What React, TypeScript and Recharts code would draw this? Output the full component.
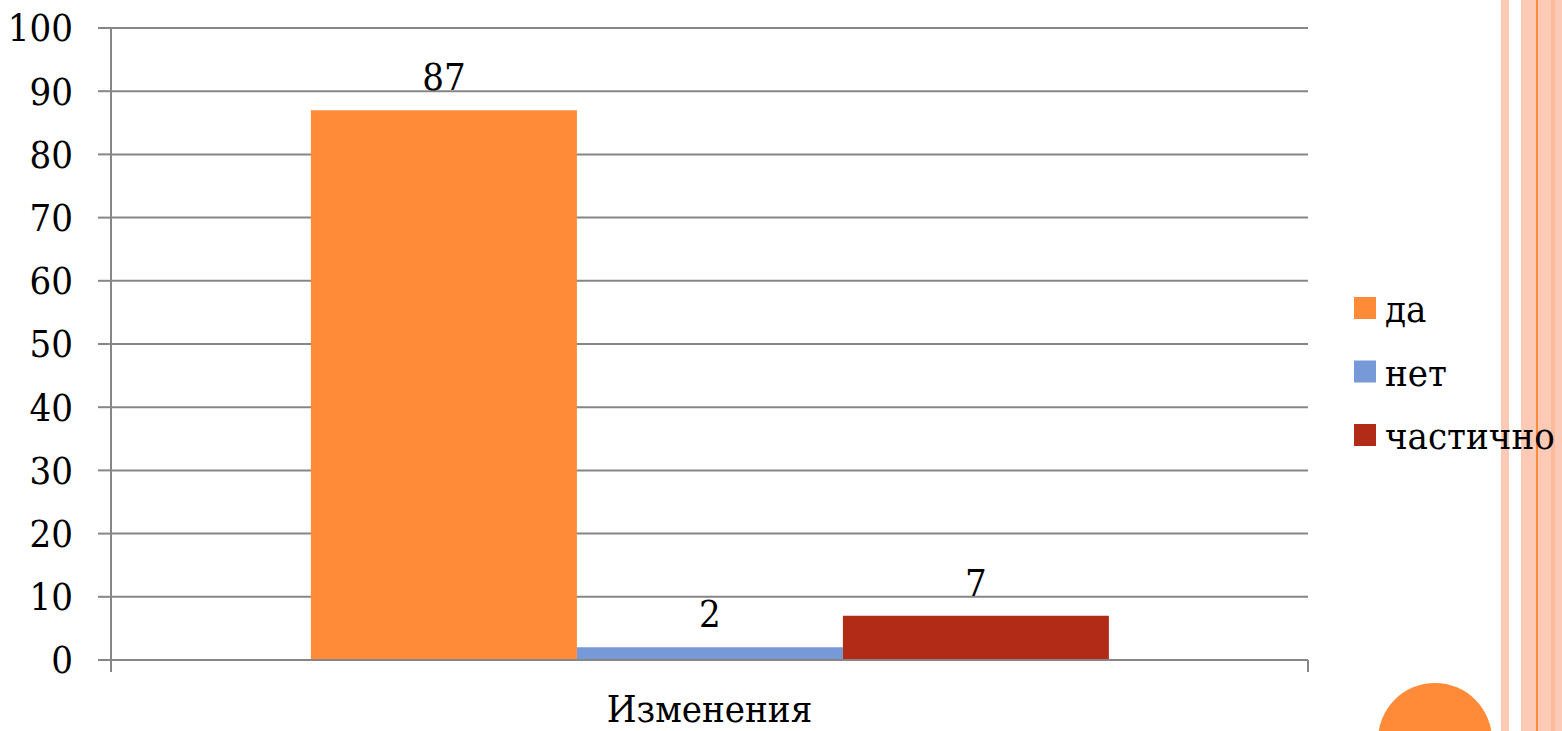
import React from 'react';
import { BarChart, Bar, XAxis, YAxis, CartesianGrid, Legend, LabelList } from 'recharts';

const categories = ['Изменения'];
const seriesNames = ['да', 'нет', 'частично'];
const seriesValues = [87, 2, 7];
const seriesColors = ['#FF8A38', '#7799D8', '#B22B17'];
const yTicks = [0, 10, 20, 30, 40, 50, 60, 70, 80, 90, 100];

const data = categories.map((c) => {
  const row: Record<string, string | number> = { name: c };
  seriesNames.forEach((s, i) => {
    row[s] = seriesValues[i];
  });
  return row;
});

const W = 1562;
const H = 731;
const PLOT_LEFT = 111;
const PLOT_RIGHT = 1308;
const PLOT_TOP = 28;
const PLOT_BOTTOM = 660;
const LEGEND_W = 200;
const LEGEND_PAD = 16;
const FONT = "'DejaVu Serif Condensed', 'DejaVu Serif', serif";
const FS = 38;
const GRID = '#868686';

const XTick = (props: any) => {
  const { x, y, payload } = props;
  const half = (PLOT_RIGHT - PLOT_LEFT) / 2;
  return (
    <g>
      <line x1={x - half} x2={x - half} y1={y} y2={y + 12} stroke={GRID} strokeWidth={2} />
      <line x1={x + half} x2={x + half} y1={y} y2={y + 12} stroke={GRID} strokeWidth={2} />
      <text x={x} y={y + 62} textAnchor="middle" fontFamily={FONT} fontSize={FS} fill="#000">
        {payload.value}
      </text>
    </g>
  );
};

const LegendContent = () => (
  <svg width={LEGEND_W} height={200} style={{ display: 'block', overflow: 'visible' }}>
    {seriesNames.map((s, i) => (
      <g key={s}>
        <rect x={0} y={LEGEND_PAD + i * 63.5} width={22} height={22} fill={seriesColors[i]} />
        <text x={31} y={LEGEND_PAD + i * 63.5 + 25} fontFamily={FONT} fontSize={FS} fill="#000">
          {s}
        </text>
      </g>
    ))}
  </svg>
);

export default function App() {
  return (
    <div style={{ position: 'absolute', left: 0, top: 0, width: W, height: H, background: '#fff', overflow: 'hidden' }}>
      {/* decorative stripes */}
      <div style={{ position: 'absolute', left: 1501, top: 0, width: 8, height: H, background: '#FCCAB5' }} />
      <div style={{ position: 'absolute', left: 1521, top: 0, width: 41, height: H, background: '#FCCAB5' }} />
      <div style={{ position: 'absolute', left: 1551, top: 0, width: 4, height: H, background: '#FBBB9E' }} />
      <div style={{ position: 'absolute', left: 1536, top: 0, width: 2, height: H, background: '#FF8A3A' }} />
      <div style={{ position: 'absolute', left: 1435 - 57, top: 740 - 57, width: 114, height: 114, borderRadius: '50%', background: '#FF8A38' }} />
      <div style={{ position: 'absolute', left: 0, top: 0 }}>
        <BarChart
          width={W}
          height={H}
          data={data}
          margin={{ top: PLOT_TOP, right: W - PLOT_RIGHT - LEGEND_W, left: 0, bottom: 0 }}
          barCategoryGap="16.7%"
          barGap={0}
        >
          <CartesianGrid horizontal vertical={false} stroke={GRID} strokeWidth={2} />
          <XAxis
            dataKey="name"
            height={H - PLOT_BOTTOM}
            axisLine={{ stroke: GRID, strokeWidth: 2 }}
            tickLine={false}
            tickSize={0}
            tickMargin={0}
            tick={<XTick />}
            interval={0}
          />
          <YAxis
            width={PLOT_LEFT}
            domain={[0, 100]}
            ticks={yTicks}
            interval={0}
            axisLine={{ stroke: GRID, strokeWidth: 2 }}
            tickLine={{ stroke: GRID, strokeWidth: 2 }}
            tickSize={13}
            tickMargin={25}
            tick={{ fontFamily: FONT, fontSize: FS, fill: '#000' }}
          />
          <Legend
            layout="vertical"
            verticalAlign="top"
            align="right"
            width={LEGEND_W}
            wrapperStyle={{ position: 'absolute', left: 1354, top: 297 - LEGEND_PAD, width: LEGEND_W, height: 200 }}
            content={<LegendContent />}
          />
          {seriesNames.map((s, i) => (
            <Bar key={s} dataKey={s} fill={seriesColors[i]} isAnimationActive={false}>
              <LabelList dataKey={s} position="top" offset={20} fill="#000" fontFamily={FONT} fontSize={FS} />
            </Bar>
          ))}
        </BarChart>
      </div>
    </div>
  );
}
